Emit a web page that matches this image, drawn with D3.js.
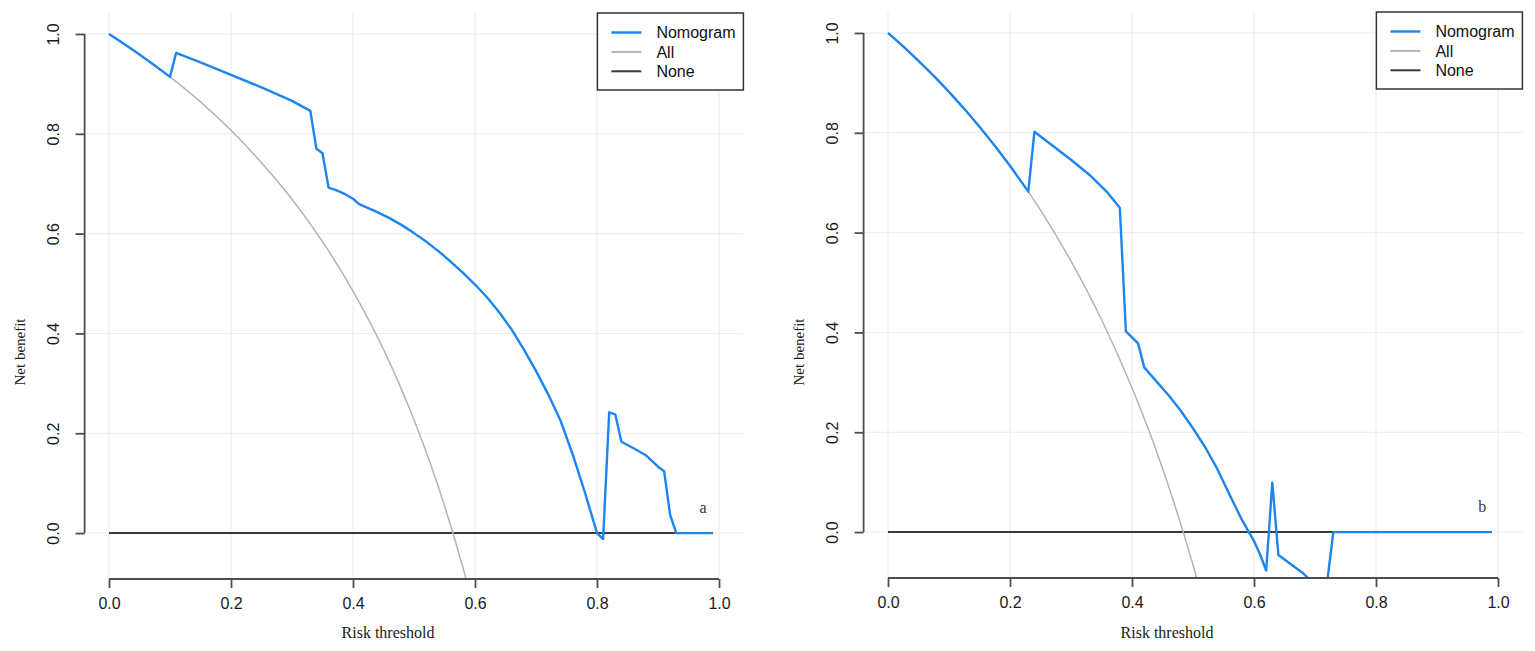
<!DOCTYPE html>
<html>
<head>
<meta charset="utf-8">
<script src="https://cdn.jsdelivr.net/npm/d3@7"></script>
<style>
  body { margin: 0; background: #fff; }
  svg { display: block; }
</style>
</head>
<body>
<div id="chart"></div>
<script>
// ---- data ----
const tickValues = [0, 0.2, 0.4, 0.6, 0.8, 1.0];
const legendLabels = ["Nomogram", "All", "None"];

// panel a
const nomogramAThreshold = [0, 0.025, 0.05, 0.075, 0.1, 0.11, 0.15, 0.2, 0.25, 0.3, 0.33, 0.34, 0.35, 0.36, 0.37, 0.38, 0.39, 0.4, 0.41, 0.44, 0.46, 0.48, 0.5, 0.52, 0.54, 0.56, 0.58, 0.6, 0.62, 0.64, 0.66, 0.68, 0.7, 0.72, 0.74, 0.76, 0.78, 0.8, 0.81, 0.82, 0.83, 0.84, 0.86, 0.88, 0.9, 0.91, 0.92, 0.93, 0.99];
const nomogramANet = [1.0, 0.98, 0.959, 0.937, 0.914, 0.962, 0.943, 0.918, 0.893, 0.866, 0.846, 0.77, 0.761, 0.692, 0.688, 0.683, 0.677, 0.67, 0.659, 0.643, 0.631, 0.617, 0.601, 0.584, 0.565, 0.544, 0.522, 0.498, 0.472, 0.442, 0.408, 0.368, 0.325, 0.278, 0.226, 0.158, 0.082, 0.0, -0.012, 0.242, 0.238, 0.183, 0.17, 0.156, 0.133, 0.124, 0.036, 0.0, 0.0];
const allAThreshold = [0, 0.05, 0.1, 0.15, 0.2, 0.25, 0.3, 0.35, 0.4, 0.45, 0.5, 0.55, 0.58, 0.6];
const allANet = [1.0, 0.959, 0.914, 0.864, 0.807, 0.742, 0.669, 0.584, 0.485, 0.368, 0.227, 0.055, -0.068, -0.16];

// panel b
const nomogramBThreshold = [0, 0.025, 0.05, 0.075, 0.1, 0.125, 0.15, 0.175, 0.2, 0.23, 0.24, 0.27, 0.3, 0.33, 0.36, 0.38, 0.39, 0.4, 0.41, 0.42, 0.44, 0.46, 0.48, 0.5, 0.52, 0.54, 0.56, 0.58, 0.6, 0.61, 0.62, 0.63, 0.64, 0.66, 0.68, 0.69, 0.7, 0.71, 0.72, 0.73, 0.99];
const nomogramBNet = [1.0, 0.973, 0.944, 0.914, 0.882, 0.848, 0.812, 0.774, 0.734, 0.682, 0.802, 0.774, 0.746, 0.716, 0.68, 0.65, 0.402, 0.39, 0.378, 0.33, 0.302, 0.274, 0.243, 0.208, 0.17, 0.126, 0.075, 0.025, -0.018, -0.045, -0.077, 0.099, -0.046, -0.064, -0.082, -0.094, -0.11, -0.12, -0.1, 0.0, 0.0];
const allBThreshold = [0, 0.05, 0.1, 0.15, 0.2, 0.25, 0.3, 0.35, 0.4, 0.45, 0.5, 0.52];
const allBNet = [1.0, 0.944, 0.882, 0.812, 0.734, 0.645, 0.543, 0.426, 0.289, 0.128, -0.066, -0.155];

const noneThreshold = [0, 0.99];
const noneNet = [0, 0];

const colors = { Nomogram: "#1C86EE", All: "#b3b3b3", None: "#3a3a3a" };

const width = 1535,
  height = 651;

const svg = d3
  .select("#chart")
  .append("svg")
  .attr("width", width)
  .attr("height", height);

function zip(xs, ys) {
  return xs.map((t, i) => ({ t: t, v: ys[i] }));
}

function drawPanel(opts) {
  const x = d3.scaleLinear().domain([-0.04, 1.04]).range(opts.xRange);
  const y = d3.scaleLinear().domain([-0.092, 1.042]).range(opts.yRange);
  const g = svg.append("g");

  // grid
  g.selectAll(".vgrid")
    .data(tickValues)
    .enter()
    .append("line")
    .attr("x1", (d) => x(d))
    .attr("x2", (d) => x(d))
    .attr("y1", opts.yRange[1])
    .attr("y2", opts.yRange[0])
    .attr("stroke", "#ebebeb")
    .attr("stroke-width", 1);
  g.selectAll(".hgrid")
    .data(tickValues)
    .enter()
    .append("line")
    .attr("x1", opts.xRange[0])
    .attr("x2", opts.xRange[1])
    .attr("y1", (d) => y(d))
    .attr("y2", (d) => y(d))
    .attr("stroke", "#ebebeb")
    .attr("stroke-width", 1);

  // clip to plot region
  g.append("clipPath")
    .attr("id", opts.id + "-clip")
    .append("rect")
    .attr("x", opts.xRange[0])
    .attr("y", opts.yRange[1])
    .attr("width", opts.xRange[1] - opts.xRange[0])
    .attr("height", opts.yRange[0] - opts.yRange[1]);

  const line = d3
    .line()
    .x((d) => x(d.t))
    .y((d) => y(d.v));
  const smooth = d3
    .line()
    .curve(d3.curveMonotoneX)
    .x((d) => x(d.t))
    .y((d) => y(d.v));

  const lines = g.append("g").attr("clip-path", `url(#${opts.id}-clip)`);
  lines
    .append("path")
    .attr("d", line(zip(noneThreshold, noneNet)))
    .attr("fill", "none")
    .attr("stroke", colors.None)
    .attr("stroke-width", 2);
  lines
    .append("path")
    .attr("d", smooth(zip(opts.allT, opts.allV)))
    .attr("fill", "none")
    .attr("stroke", colors.All)
    .attr("stroke-width", 1.5);
  lines
    .append("path")
    .attr("d", line(zip(opts.nomT, opts.nomV)))
    .attr("fill", "none")
    .attr("stroke", colors.Nomogram)
    .attr("stroke-width", 2.4)
    .attr("stroke-linejoin", "round");

  // axes
  const xAxis = g
    .append("g")
    .attr("transform", `translate(0,${opts.yRange[0]})`)
    .call(
      d3.axisBottom(x).tickValues(tickValues).tickFormat(d3.format(".1f")).tickSize(9).tickPadding(10)
    );
  xAxis.select(".domain").remove();
  xAxis
    .append("line")
    .attr("x1", x(0))
    .attr("x2", x(1))
    .attr("stroke", "#4d4d4d")
    .attr("stroke-width", 1.8);

  const yAxis = g
    .append("g")
    .attr("transform", `translate(${opts.xRange[0]},0)`)
    .call(d3.axisLeft(y).tickValues(tickValues).tickFormat(d3.format(".1f")).tickSize(9));
  yAxis.select(".domain").remove();
  yAxis
    .append("line")
    .attr("y1", y(0))
    .attr("y2", y(1))
    .attr("stroke", "#4d4d4d")
    .attr("stroke-width", 1.8);
  yAxis
    .selectAll(".tick text")
    .attr("transform", "rotate(-90)")
    .attr("x", 0)
    .attr("y", -30)
    .attr("dy", 0)
    .attr("text-anchor", "middle")
    .attr("dominant-baseline", "middle");

  [xAxis, yAxis].forEach((a) => {
    a.selectAll(".tick line").attr("stroke", "#4d4d4d").attr("stroke-width", 1.8);
    a.selectAll(".tick text")
      .attr("fill", "#1a1a1a")
      .style("font-family", "'Liberation Sans', Arial, sans-serif")
      .style("font-size", "16px");
  });

  // titles
  g.append("text")
    .attr("x", x(0) + 279)
    .attr("y", 638)
    .attr("text-anchor", "middle")
    .style("font-family", "'Liberation Serif', 'Times New Roman', serif")
    .style("font-size", "16px")
    .attr("fill", "#1a1a1a")
    .text("Risk threshold");
  g.append("text")
    .attr("transform", `translate(${opts.xRange[0] - 60},352) rotate(-90)`)
    .attr("text-anchor", "middle")
    .style("font-family", "'Liberation Serif', 'Times New Roman', serif")
    .style("font-size", "15px")
    .attr("fill", "#1a1a1a")
    .text("Net benefit");

  // panel letter
  g.append("text")
    .attr("x", x(0.974))
    .attr("y", y(0.04))
    .attr("text-anchor", "middle")
    .style("font-family", "'Liberation Serif', 'Times New Roman', serif")
    .style("font-size", "16px")
    .attr("fill", "#333")
    .text(opts.letter);

  // legend
  const boxW = 146,
    boxH = 77;
  const legend = g
    .append("g")
    .attr("transform", `translate(${opts.xRange[1] - boxW},${opts.yRange[1]})`);
  legend
    .append("rect")
    .attr("width", boxW)
    .attr("height", boxH)
    .attr("fill", "#fff")
    .attr("stroke", "#333")
    .attr("stroke-width", 1.5);
  const item = legend
    .selectAll(".item")
    .data(legendLabels)
    .enter()
    .append("g")
    .attr("transform", (d, i) => `translate(0,${19.5 + i * 19.4})`);
  item
    .append("line")
    .attr("x1", 14)
    .attr("x2", 44)
    .attr("stroke", (d) => colors[d])
    .attr("stroke-width", (d) => (d === "Nomogram" ? 2.4 : 2));
  item
    .append("text")
    .attr("x", 59)
    .attr("dy", "0.35em")
    .style("font-family", "'Liberation Sans', Arial, sans-serif")
    .style("font-size", "16px")
    .attr("fill", "#111")
    .text((d) => d);
}

drawPanel({
  id: "a",
  xRange: [84.6, 743.4],
  yRange: [579, 13],
  nomT: nomogramAThreshold,
  nomV: nomogramANet,
  allT: allAThreshold,
  allV: allANet,
  letter: "a"
});

drawPanel({
  id: "b",
  xRange: [863.6, 1522.4],
  yRange: [578, 12],
  nomT: nomogramBThreshold,
  nomV: nomogramBNet,
  allT: allBThreshold,
  allV: allBNet,
  letter: "b"
});
</script>
</body>
</html>
